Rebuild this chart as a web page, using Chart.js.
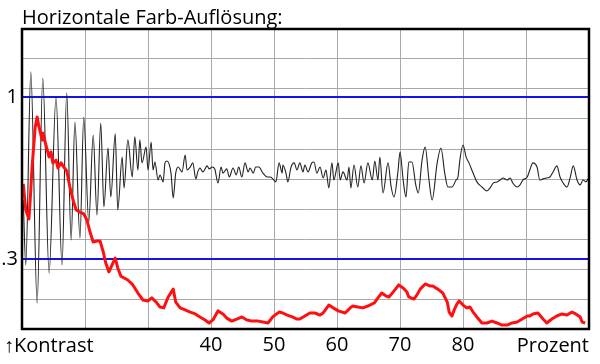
<!DOCTYPE html>
<html>
<head>
<meta charset="utf-8">
<title>Horizontale Farb-Auflösung</title>
<script src="https://cdn.jsdelivr.net/npm/chart.js@4.4.1/dist/chart.umd.min.js"></script>
<style>
  html, body { margin: 0; padding: 0; background: #fff; }
  #chart { display: block; }
</style>
</head>
<body>
<canvas id="chart" width="600" height="364"></canvas>
<script>
/* Horizontale Farb-Auflösung — Kontrast über Prozent */

const TITLE      = 'Horizontale Farb-Auflösung:';
const AXIS_LEFT  = '\u2191Kontrast';
const AXIS_RIGHT = 'Prozent';
const FONT       = "'Open Sans', sans-serif";

// x axis: percent, grid every 10, labelled 40..80
const X_MIN = 10, X_MAX = 100, X_STEP = 10;
const X_LABELS = [40, 50, 60, 70, 80];

// y axis: contrast, ten equal grid rows, blue reference lines at 1 and .3
const Y_MAX = 1.293;
const Y_MARKS  = [1, 0.3];
const Y_MARK_LABELS = ['1', '.3'];

// black trace (luma response)
const blackX = [10.2, 10.6, 11.4, 12.4, 13.3, 14.3, 15.4, 16.35, 17.1, 17.8, 18.4, 19.2, 19.8, 20.6, 21.3, 21.9, 22.5, 23.0, 23.65, 24.1,
  24.8, 25.2, 25.9, 26.2, 26.8, 27.5, 27.9, 28.4, 28.7, 29.05, 29.7, 30.0, 30.5, 30.8, 31.1, 31.6, 31.9, 32.4, 32.7, 33.0,
  33.65, 34.0, 34.4, 34.8, 35.4, 35.9, 36.2, 36.7, 37.1, 37.6, 37.9, 38.25, 38.7, 39.4, 39.7, 40.2, 40.6, 41.1, 41.6, 41.9,
  42.5, 42.9, 43.5, 44.0, 44.4, 44.9, 45.4, 45.9, 46.2, 46.7, 47.1, 47.6, 48.25, 48.9, 49.4, 49.8, 50.3, 50.8, 51.3, 51.4,
  51.9, 52.2, 52.7, 53.2, 53.65, 54.1, 54.6, 54.9, 55.4, 56.0, 56.35, 56.8, 57.3, 57.8, 58.25, 58.7, 59.2, 59.5, 60.2, 60.5,
  60.95, 61.6, 61.9, 62.2, 62.7, 63.3, 63.8, 64.3, 64.9, 65.6, 66.0, 66.5, 66.8, 67.3, 68.1, 68.6, 69.05, 69.7, 70.0, 70.5,
  70.95, 71.4, 71.9, 72.5, 72.9, 73.5, 74.0, 74.6, 75.1, 75.9, 76.5, 77.1, 77.6, 78.25, 78.9, 79.2, 79.5, 80.0, 80.5, 80.95,
  81.6, 82.2, 83.0, 83.8, 84.3, 84.8, 85.4, 85.9, 86.35, 87.0, 87.5, 87.9, 88.6, 89.05, 89.5, 90.2, 90.6, 91.1, 91.75, 92.2,
  92.7, 93.3, 93.8, 94.3, 94.9, 95.4, 95.9, 96.5, 97.0, 97.5, 98.1, 98.6, 99.05, 99.5, 99.85];
const blackY = [0.556, 0.276, 1.108, 0.112, 1.082, 0.241, 1.000, 0.276, 1.017, 0.384, 0.892, 0.392, 0.914, 0.461, 0.836, 0.491, 0.888, 0.526, 0.780, 0.569,
  0.841, 0.513, 0.741, 0.608, 0.815, 0.655, 0.828, 0.685, 0.815, 0.716, 0.784, 0.685, 0.806, 0.685, 0.720, 0.642, 0.664, 0.634, 0.716, 0.724,
  0.672, 0.565, 0.672, 0.698, 0.677, 0.750, 0.685, 0.698, 0.716, 0.647, 0.677, 0.694, 0.677, 0.703, 0.690, 0.698, 0.690, 0.629, 0.698, 0.672,
  0.690, 0.655, 0.694, 0.664, 0.698, 0.655, 0.716, 0.677, 0.694, 0.672, 0.698, 0.698, 0.672, 0.655, 0.655, 0.647, 0.634, 0.716, 0.672, 0.707,
  0.672, 0.634, 0.698, 0.716, 0.685, 0.716, 0.677, 0.707, 0.677, 0.716, 0.720, 0.672, 0.698, 0.651, 0.685, 0.608, 0.716, 0.642, 0.716, 0.642,
  0.677, 0.642, 0.698, 0.608, 0.707, 0.612, 0.703, 0.629, 0.716, 0.642, 0.724, 0.642, 0.741, 0.586, 0.716, 0.612, 0.569, 0.685, 0.763, 0.642,
  0.569, 0.720, 0.720, 0.621, 0.586, 0.728, 0.784, 0.642, 0.556, 0.716, 0.780, 0.672, 0.612, 0.612, 0.642, 0.655, 0.728, 0.793, 0.741, 0.716,
  0.672, 0.634, 0.612, 0.595, 0.608, 0.629, 0.634, 0.642, 0.651, 0.642, 0.651, 0.629, 0.612, 0.621, 0.642, 0.655, 0.685, 0.716, 0.698, 0.642,
  0.647, 0.651, 0.655, 0.677, 0.703, 0.655, 0.629, 0.612, 0.651, 0.703, 0.642, 0.621, 0.642, 0.634, 0.647];

// red trace (chroma response)
const redX = [10.2, 10.6, 11.1, 11.3, 11.6, 12.1, 12.4, 12.7, 13.2, 13.3, 14.0, 14.3, 14.6, 14.9, 15.4, 15.7, 16.2, 16.5, 17.1, 17.6,
  18.1, 18.6, 19.2, 19.8, 20.3, 20.8, 21.3, 21.9, 22.4, 22.9, 23.3, 23.8, 24.3, 24.8, 25.2, 25.7, 26.2, 26.8, 27.6, 28.4,
  29.2, 30.0, 30.6, 31.3, 31.9, 32.5, 33.2, 34.0, 34.4, 35.1, 35.9, 36.7, 37.5, 38.25, 39.05, 39.7, 40.3, 41.1, 41.9, 42.5,
  43.3, 44.1, 44.9, 45.7, 46.5, 47.5, 48.25, 49.05, 49.8, 50.8, 51.4, 52.1, 52.9, 53.65, 54.1, 54.9, 55.7, 56.5, 57.3, 57.8,
  58.7, 59.4, 60.2, 61.3, 62.1, 62.5, 63.3, 64.1, 64.9, 65.6, 65.9, 66.35, 67.1, 67.8, 68.25, 68.9, 69.8, 70.5, 71.1, 71.4,
  72.2, 72.7, 73.2, 74.0, 74.8, 75.2, 76.0, 76.8, 77.5, 77.8, 78.25, 78.6, 79.05, 79.4, 80.0, 80.6, 81.1, 81.6, 82.2, 83.0,
  83.8, 84.6, 85.4, 86.2, 87.0, 87.8, 88.6, 89.4, 90.2, 90.6, 91.1, 91.9, 92.7, 93.3, 94.1, 94.9, 95.7, 96.5, 97.3, 97.9,
  98.6, 98.9, 99.4];
const redY = [0.625, 0.513, 0.474, 0.556, 0.698, 0.871, 0.914, 0.871, 0.815, 0.845, 0.772, 0.741, 0.763, 0.716, 0.728, 0.694, 0.716, 0.703, 0.681, 0.612,
  0.556, 0.513, 0.504, 0.496, 0.470, 0.418, 0.375, 0.379, 0.379, 0.332, 0.284, 0.246, 0.276, 0.306, 0.263, 0.228, 0.220, 0.211, 0.190, 0.155,
  0.125, 0.121, 0.134, 0.116, 0.095, 0.091, 0.138, 0.172, 0.116, 0.091, 0.082, 0.073, 0.065, 0.052, 0.039, 0.026, 0.039, 0.078, 0.065, 0.047,
  0.034, 0.043, 0.052, 0.039, 0.034, 0.034, 0.030, 0.026, 0.052, 0.073, 0.069, 0.060, 0.052, 0.043, 0.043, 0.056, 0.069, 0.069, 0.060, 0.069,
  0.103, 0.091, 0.078, 0.069, 0.091, 0.099, 0.095, 0.091, 0.099, 0.108, 0.112, 0.129, 0.155, 0.142, 0.138, 0.159, 0.190, 0.177, 0.159, 0.138,
  0.129, 0.147, 0.172, 0.194, 0.185, 0.185, 0.172, 0.155, 0.116, 0.073, 0.056, 0.082, 0.108, 0.121, 0.103, 0.091, 0.095, 0.073, 0.052, 0.026,
  0.026, 0.034, 0.026, 0.017, 0.017, 0.026, 0.030, 0.043, 0.056, 0.056, 0.065, 0.069, 0.043, 0.026, 0.043, 0.056, 0.065, 0.060, 0.073, 0.065,
  0.052, 0.030, 0.026];

const COLORS = { black: '#222', red: '#ff1010', blue: '#1414e6', grid: '#a9a9a9', frame: '#000' };

const toPoints = (xs, ys) => xs.map((x, i) => ({ x, y: ys[i] }));

// frame round the plot plus the two axis words
const frameAndWords = {
  id: 'frameAndWords',
  afterDraw(chart) {
    const { ctx, chartArea: a } = chart;
    ctx.save();
    ctx.strokeStyle = COLORS.frame;
    ctx.lineWidth = 2.5;
    ctx.strokeRect(a.left, a.top, a.right - a.left, a.bottom - a.top);
    ctx.font = `20px ${FONT}`;
    ctx.fillStyle = '#000';
    ctx.textBaseline = 'alphabetic';
    ctx.textAlign = 'left';
    ctx.fillText(AXIS_LEFT, a.left - 18, a.bottom + 23);
    ctx.textAlign = 'right';
    ctx.fillText(AXIS_RIGHT, a.right, a.bottom + 23);
    ctx.restore();
  }
};

new Chart(document.getElementById('chart'), {
  type: 'line',
  data: {
    datasets: [
      { label: 'Farbe', data: toPoints(redX, redY), borderColor: COLORS.red, borderWidth: 3,
        pointRadius: 0, tension: 0, borderJoinStyle: 'round' },
      { label: 'Luma', data: toPoints(blackX, blackY), borderColor: COLORS.black, borderWidth: 1.1,
        pointRadius: 0, cubicInterpolationMode: 'monotone' }
    ]
  },
  options: {
    responsive: false, animation: false, devicePixelRatio: 1,
    layout: { padding: { right: 11, left: 0, bottom: 0, top: 0 } },
    plugins: {
      legend: { display: false }, tooltip: { enabled: false },
      title: {
        display: true, text: TITLE, align: 'start', fullSize: false, color: '#000',
        font: { family: FONT, size: 20, weight: 'normal', lineHeight: 1.05 }, padding: { top: 8, bottom: 0 }
      }
    },
    scales: {
      x: {
        type: 'linear', min: X_MIN, max: X_MAX,
        ticks: {
          stepSize: X_STEP, autoSkip: false, maxRotation: 0, padding: 4, color: '#000',
          font: { family: FONT, size: 20 },
          callback: v => X_LABELS.includes(v) ? String(v) : ''
        },
        grid: { color: COLORS.grid, lineWidth: 1, drawTicks: false },
        border: { display: false },
        afterFit: s => { s.height = 35; }
      },
      y: {
        min: 0, max: Y_MAX,
        afterBuildTicks: s => {
          const rows = Array.from({ length: 11 }, (_, i) => ({ value: i * Y_MAX / 10 }));
          s.ticks = rows.concat(Y_MARKS.map(v => ({ value: v }))).sort((p, q) => p.value - q.value);
        },
        ticks: {
          autoSkip: false, padding: 4, color: '#000',
          font: { family: FONT, size: 20 },
          callback: v => { const k = Y_MARKS.indexOf(v); return k >= 0 ? Y_MARK_LABELS[k] : ''; }
        },
        grid: {
          drawTicks: false,
          color: c => Y_MARKS.includes(c.tick && c.tick.value) ? COLORS.blue : COLORS.grid,
          lineWidth: c => Y_MARKS.includes(c.tick && c.tick.value) ? 2 : 1
        },
        border: { display: false },
        afterFit: s => { s.width = 22; }
      }
    }
  },
  plugins: [frameAndWords]
});
</script>
</body>
</html>
